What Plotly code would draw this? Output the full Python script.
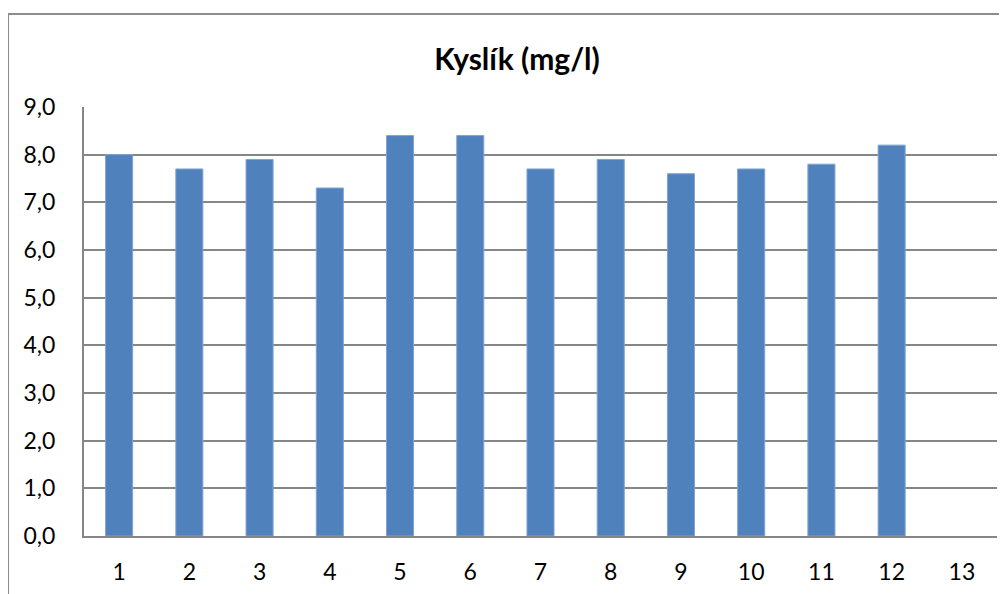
import plotly.graph_objects as go

categories = [str(i) for i in range(1, 14)]
kyslik = [8.0, 7.7, 7.9, 7.3, 8.4, 8.4, 7.7, 7.9, 7.6, 7.7, 7.8, 8.2, None]
y_ticks = [0, 1, 2, 3, 4, 5, 6, 7, 8, 9]
y_tick_labels = ['0,0', '1,0', '2,0', '3,0', '4,0', '5,0', '6,0', '7,0', '8,0', '9,0']

fig = go.Figure()
fig.add_trace(go.Bar(
    x=categories,
    y=kyslik,
    marker=dict(color='#4F81BD', line=dict(color='#7FA3D3', width=1)),
    showlegend=False
))

# page has an 8px body margin, so the figure is made 8px smaller and shifted
fig.update_layout(
    width=999,
    height=586,
    margin=dict(l=76, r=10, t=99, b=58, autoexpand=False),
    paper_bgcolor='white',
    plot_bgcolor='white',
    bargap=0.615,
    font=dict(family='Lato, Noto Sans, sans-serif', color='black', size=23),
    title=dict(
        text='<b>Kyslík (mg/l)</b>',
        x=(517 - 8) / 999, xanchor='center', xref='container',
        y=1 - 51 / 586, yref='container', yanchor='middle',
        font=dict(size=30, family='Lato, Noto Sans, sans-serif', color='black')
    ),
    shapes=[dict(
        type='rect', xref='paper', yref='paper',
        x0=-0.0832, x1=1.05, y0=-0.3, y1=1.2168,
        line=dict(color='#8C8C8C', width=2), layer='below'
    )]
)

fig.update_xaxes(
    type='category', automargin=False,
    showline=True, linecolor='#868686', linewidth=2,
    showgrid=False, ticks='', ticklabelstandoff=14,
    tickfont=dict(size=23)
)
fig.update_yaxes(
    range=[0, 9], automargin=False,
    tickvals=y_ticks, ticktext=y_tick_labels,
    showline=True, linecolor='#868686', linewidth=2,
    showgrid=True, gridcolor='#868686', gridwidth=2,
    zeroline=False, ticks='', ticklabelstandoff=22,
    tickfont=dict(size=23)
)

fig.write_html("out.html")
